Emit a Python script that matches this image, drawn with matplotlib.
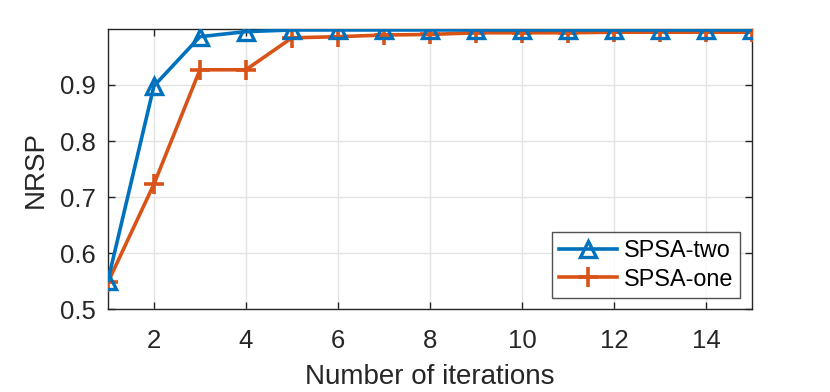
import matplotlib
matplotlib.use("Agg")
import matplotlib.pyplot as plt

iterations = list(range(1, 16))
spsa_two = [0.551, 0.898, 0.986, 0.995, 0.998, 0.998, 0.998, 0.998, 0.998,
            0.998, 0.998, 0.998, 0.998, 0.998, 0.998]
spsa_one = [0.548, 0.723, 0.927, 0.927, 0.984, 0.986, 0.989, 0.990, 0.993,
            0.993, 0.993, 0.994, 0.994, 0.994, 0.994]
xticks = [2, 4, 6, 8, 10, 12, 14]
yticks = [0.5, 0.6, 0.7, 0.8, 0.9]
labels = ["SPSA-two", "SPSA-one"]

plt.rcParams['font.family'] = ['Liberation Sans', 'DejaVu Sans']

fig = plt.figure(figsize=(8.3, 3.92), dpi=100)
ax = fig.add_axes([0.130, 0.211, 0.776, 0.714])

blue = '#0072BD'
orange = '#D95319'
ax.plot(iterations, spsa_two, color=blue, lw=2.6, marker='^', ms=12,
        mfc='none', mew=2.4, label=labels[0], zorder=4)
ax.plot(iterations, spsa_one, color=orange, lw=2.6, marker='+', ms=14,
        mew=2.6, label=labels[1], zorder=3)

ax.set_xlim(1, 15)
ax.set_ylim(0.5, 0.999)
ax.set_xticks(xticks)
ax.set_yticks(yticks)
ax.set_yticklabels([f"{v:g}" for v in yticks])
ax.grid(True, color='#E3E3E3', lw=1.0)
ax.set_axisbelow(True)
for s in ax.spines.values():
    s.set_color('#262626')
    s.set_linewidth(1.0)
ax.tick_params(axis='both', direction='in', length=5, width=1.0, colors='#262626',
               labelsize=18.5, top=True, right=True)
ax.tick_params(axis='x', pad=14)
ax.tick_params(axis='y', pad=9)
ax.set_xlabel('Number of iterations', fontsize=20, color='#262626', labelpad=8)
ax.set_ylabel('NRSP', fontsize=20, color='#262626', labelpad=8)

leg = ax.legend(loc='lower right', fontsize=16.8, frameon=True, fancybox=False,
                edgecolor='#262626', borderpad=0.3, handlelength=2.5,
                handletextpad=0.3, labelspacing=0.25, borderaxespad=0.5)
leg.get_frame().set_linewidth(1.0)

fig.savefig('out.png', dpi=100)
